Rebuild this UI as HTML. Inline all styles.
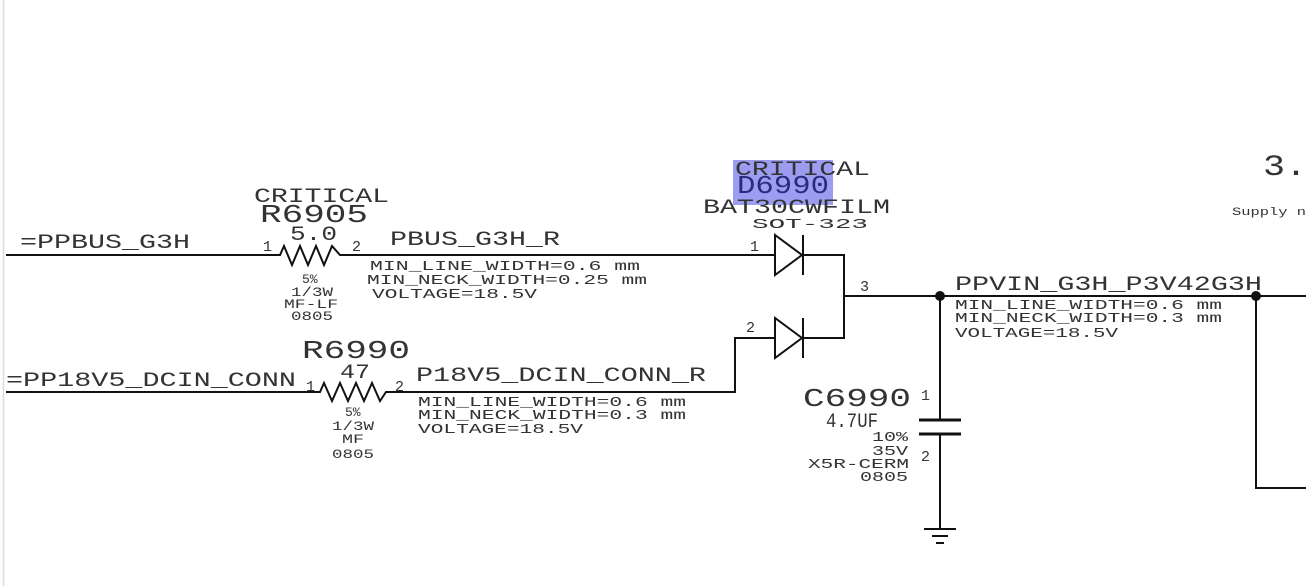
<!DOCTYPE html>
<html><head><meta charset="utf-8"><style>
html,body{margin:0;padding:0;background:#fff;}
svg{display:block;}
text{font-family:"Liberation Mono","DejaVu Sans Mono",monospace;fill:#333;}
</style></head><body>
<svg width="1306" height="586" viewBox="0 0 1306 586" xmlns="http://www.w3.org/2000/svg">
<line x1="3.5" y1="0" x2="3.5" y2="586" stroke="#ddd" stroke-width="1.5"/>
<rect x="733" y="160" width="100" height="45" fill="#9c9cf0"/>
<g stroke="#111" stroke-width="2" fill="none">
<polyline points="6,255 280,255 284,246 292,265 300,246 308,265 316,246 324,265 332,246 340,255 775,255"/>
<polyline points="6,392 320,392 324,383 332,401 340,383 348,401 356,383 364,401 372,383 380,401 386,392 735,392 735,338 775,338"/>
<polygon points="775,235 775,275 802,255"/>
<line x1="803" y1="235" x2="803" y2="275"/>
<polyline points="803,255 844,255 844,338 803,338"/>
<polygon points="775,318 775,358 802,338"/>
<line x1="803" y1="318" x2="803" y2="358"/>
<line x1="844" y1="296" x2="1306" y2="296"/>
<line x1="940" y1="296" x2="940" y2="420"/>
<line x1="919" y1="420" x2="961" y2="420" stroke-width="3"/>
<line x1="919" y1="434" x2="961" y2="434" stroke-width="3"/>
<line x1="940" y1="434" x2="940" y2="529"/>
<line x1="924" y1="529" x2="956" y2="529"/>
<line x1="932" y1="536" x2="948" y2="536"/>
<line x1="936" y1="543" x2="944" y2="543"/>
<polyline points="1256,296 1256,488 1306,488"/>
</g>
<circle cx="940" cy="296" r="5" fill="#111"/>
<circle cx="1256" cy="296" r="5" fill="#111"/>
<g font-size="20">
<text x="20" y="248" textLength="170" lengthAdjust="spacingAndGlyphs">=PPBUS_G3H</text>
<text x="254" y="202" textLength="135" lengthAdjust="spacingAndGlyphs">CRITICAL</text>
<text x="260" y="222" font-size="26" textLength="108" lengthAdjust="spacingAndGlyphs">R6905</text>
<text x="290" y="240" textLength="47" lengthAdjust="spacingAndGlyphs">5.0</text>
<text x="390" y="245" textLength="170" lengthAdjust="spacingAndGlyphs">PBUS_G3H_R</text>
<text x="302" y="358" font-size="26" textLength="108" lengthAdjust="spacingAndGlyphs">R6990</text>
<text x="340" y="378" textLength="30" lengthAdjust="spacingAndGlyphs">47</text>
<text x="6" y="386" textLength="290" lengthAdjust="spacingAndGlyphs">=PP18V5_DCIN_CONN</text>
<text x="416" y="381" textLength="290" lengthAdjust="spacingAndGlyphs">P18V5_DCIN_CONN_R</text>
<text x="735" y="175" textLength="135" lengthAdjust="spacingAndGlyphs">CRITICAL</text>
<text x="737" y="193" font-size="26" textLength="92" lengthAdjust="spacingAndGlyphs" style="fill:#2a2a80">D6990</text>
<text x="703" y="213" textLength="187" lengthAdjust="spacingAndGlyphs">BAT30CWFILM</text>
<text x="955" y="290" textLength="307" lengthAdjust="spacingAndGlyphs">PPVIN_G3H_P3V42G3H</text>
<text x="803" y="406" font-size="26" textLength="108" lengthAdjust="spacingAndGlyphs">C6990</text>
<text x="826" y="427" textLength="52" lengthAdjust="spacingAndGlyphs">4.7UF</text>
<text x="1263" y="175" font-size="30" textLength="44" lengthAdjust="spacingAndGlyphs">3.</text>
</g>
<g font-size="14">
<text x="370" y="270" textLength="270" lengthAdjust="spacingAndGlyphs">MIN_LINE_WIDTH=0.6 mm</text>
<text x="367" y="284" textLength="280" lengthAdjust="spacingAndGlyphs">MIN_NECK_WIDTH=0.25 mm</text>
<text x="372" y="298" textLength="165" lengthAdjust="spacingAndGlyphs">VOLTAGE=18.5V</text>
<text x="418" y="406" textLength="268" lengthAdjust="spacingAndGlyphs">MIN_LINE_WIDTH=0.6 mm</text>
<text x="418" y="419" textLength="268" lengthAdjust="spacingAndGlyphs">MIN_NECK_WIDTH=0.3 mm</text>
<text x="418" y="433" textLength="165" lengthAdjust="spacingAndGlyphs">VOLTAGE=18.5V</text>
<text x="955" y="309" textLength="267" lengthAdjust="spacingAndGlyphs">MIN_LINE_WIDTH=0.6 mm</text>
<text x="955" y="322" textLength="267" lengthAdjust="spacingAndGlyphs">MIN_NECK_WIDTH=0.3 mm</text>
<text x="955" y="337" textLength="163" lengthAdjust="spacingAndGlyphs">VOLTAGE=18.5V</text>
<text x="752" y="228" textLength="116" lengthAdjust="spacingAndGlyphs">SOT-323</text>
<text x="872" y="441" textLength="36" lengthAdjust="spacingAndGlyphs">10%</text>
<text x="872" y="455" textLength="36" lengthAdjust="spacingAndGlyphs">35V</text>
<text x="808" y="468" textLength="101" lengthAdjust="spacingAndGlyphs">X5R-CERM</text>
<text x="860" y="481" textLength="48" lengthAdjust="spacingAndGlyphs">0805</text>
</g>
<g font-size="13">
<text x="302" y="283">5%</text>
<text x="291" y="296" textLength="42" lengthAdjust="spacingAndGlyphs">1/3W</text>
<text x="284" y="308" textLength="54" lengthAdjust="spacingAndGlyphs">MF-LF</text>
<text x="291" y="320" textLength="42" lengthAdjust="spacingAndGlyphs">0805</text>
<text x="345" y="416">5%</text>
<text x="332" y="430" textLength="42" lengthAdjust="spacingAndGlyphs">1/3W</text>
<text x="342" y="443" textLength="22" lengthAdjust="spacingAndGlyphs">MF</text>
<text x="332" y="458" textLength="42" lengthAdjust="spacingAndGlyphs">0805</text>
</g>
<g font-size="15">
<text x="263" y="251">1</text>
<text x="352" y="251">2</text>
<text x="306" y="391">1</text>
<text x="395" y="391">2</text>
<text x="750" y="251">1</text>
<text x="746" y="332">2</text>
<text x="860" y="291">3</text>
<text x="921" y="400">1</text>
<text x="921" y="461">2</text>
</g>
<text x="1232" y="215" font-size="11" textLength="74" lengthAdjust="spacingAndGlyphs">Supply n</text>
</svg>
</body></html>
